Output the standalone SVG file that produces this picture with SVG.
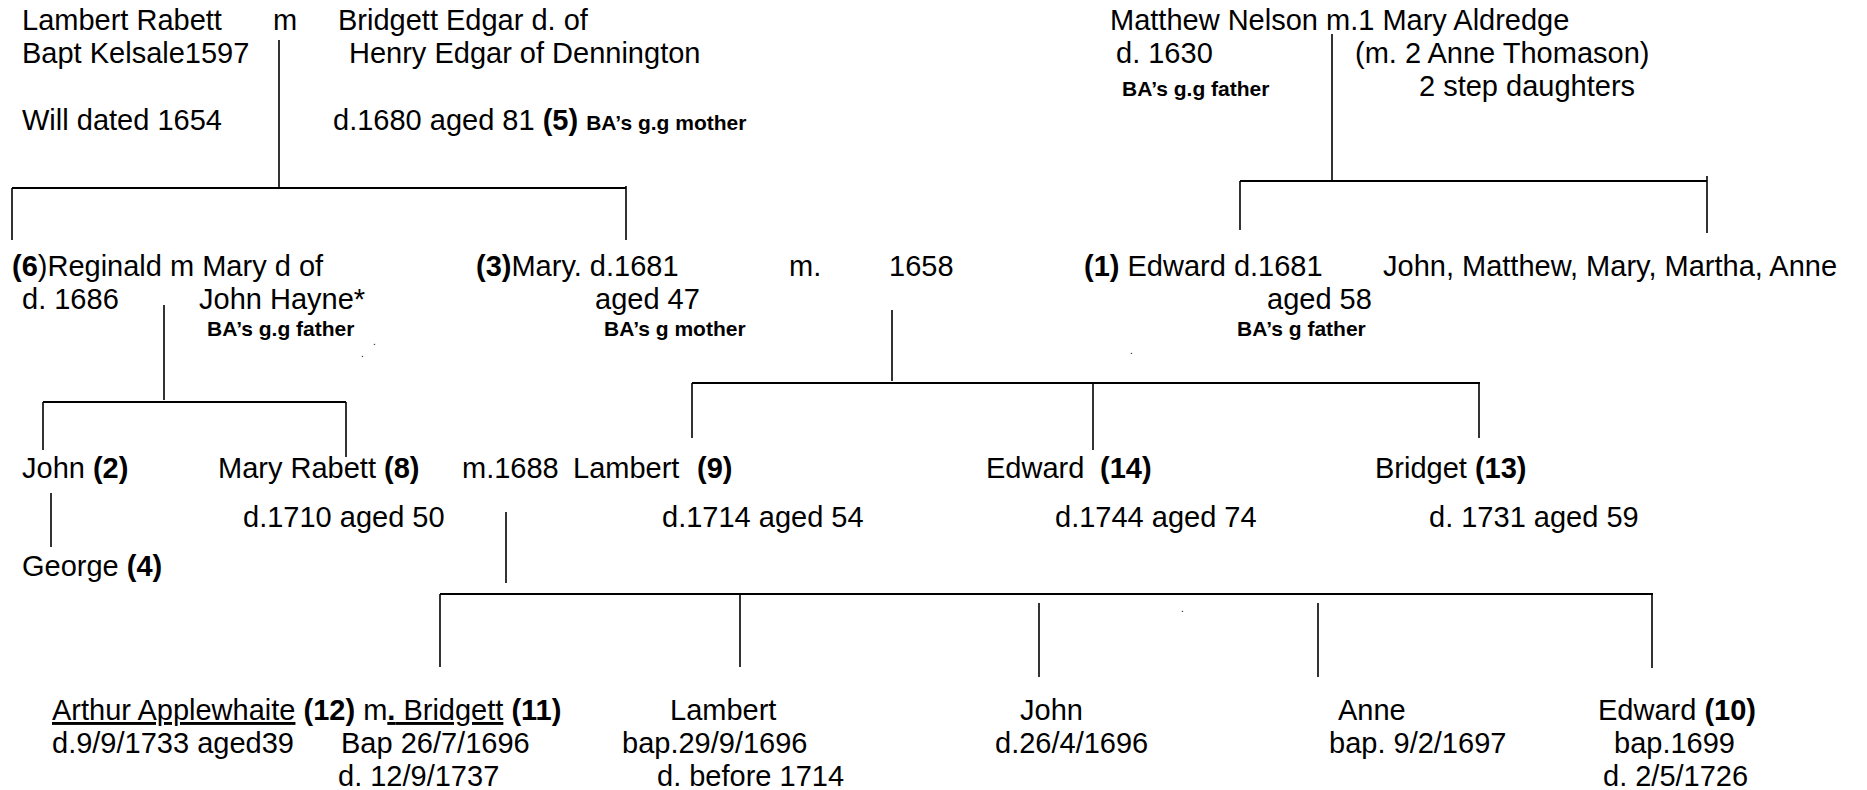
<svg xmlns="http://www.w3.org/2000/svg" width="1867" height="790" viewBox="0 0 1867 790">
<style>
text{font-family:"Liberation Sans",Arial,sans-serif;font-size:29px;fill:#000}
.b{font-weight:bold}
.s{font-size:21px;font-weight:bold}
.u{text-decoration:underline}
.dot{font-size:10px}
.h{stroke:#000;stroke-width:2.2;fill:none}
.v{stroke:#000;stroke-width:1.6;fill:none}
</style>
<rect width="1867" height="790" fill="#fff"/>
<g id="connectors">
<line class="v" x1="279" y1="40" x2="279" y2="188"/>
<line class="h" x1="12" y1="188" x2="626" y2="188"/>
<line class="v" x1="12" y1="188" x2="12" y2="240"/>
<line class="v" x1="626" y1="186" x2="626" y2="240"/>
<line class="v" x1="1332" y1="34" x2="1332" y2="181"/>
<line class="h" x1="1240" y1="181" x2="1707" y2="181"/>
<line class="v" x1="1240" y1="181" x2="1240" y2="230"/>
<line class="v" x1="1707" y1="176" x2="1707" y2="233"/>
<line class="v" x1="164" y1="305" x2="164" y2="400"/>
<line class="h" x1="43" y1="402" x2="346" y2="402"/>
<line class="v" x1="43" y1="402" x2="43" y2="450"/>
<line class="v" x1="346" y1="402" x2="346" y2="457"/>
<line class="v" x1="892" y1="310" x2="892" y2="381"/>
<line class="h" x1="692" y1="383" x2="1480" y2="383"/>
<line class="v" x1="692" y1="383" x2="692" y2="438"/>
<line class="v" x1="1093" y1="383" x2="1093" y2="450"/>
<line class="v" x1="1479" y1="383" x2="1479" y2="438"/>
<line class="v" x1="51" y1="493" x2="51" y2="547"/>
<line class="v" x1="506" y1="512" x2="506" y2="583"/>
<line class="h" x1="440" y1="594" x2="1653" y2="594"/>
<line class="v" x1="440" y1="594" x2="440" y2="667"/>
<line class="v" x1="740" y1="594" x2="740" y2="667"/>
<line class="v" x1="1039" y1="603" x2="1039" y2="677"/>
<line class="v" x1="1318" y1="603" x2="1318" y2="677"/>
<line class="v" x1="1652" y1="594" x2="1652" y2="668"/>
</g>
<g id="lambert-rabett">
<text x="22" y="30">Lambert Rabett</text>
<text x="22" y="63">Bapt Kelsale1597</text>
<text x="22" y="130">Will dated 1654</text>
</g>
<g id="marriage-m1"><text x="273" y="30">m</text></g>
<g id="bridgett-edgar">
<text x="338" y="30">Bridgett Edgar d. of</text>
<text x="349" y="63">Henry Edgar of Dennington</text>
<text x="333" y="130">d.1680 aged 81 <tspan class="b">(5)</tspan> <tspan class="s">BA’s g.g mother</tspan></text>
</g>
<g id="matthew-nelson">
<text x="1110" y="30">Matthew Nelson m.1 Mary Aldredge</text>
<text x="1116" y="63">d. 1630</text>
<text class="s" x="1122" y="96">BA’s g.g father</text>
<text x="1355" y="63">(m. 2 Anne Thomason)</text>
<text x="1419" y="96">2 step daughters</text>
</g>
<g id="reginald">
<text x="12" y="276"><tspan class="b">(6</tspan>)Reginald m Mary d of</text>
<text x="22" y="309">d. 1686</text>
<text x="199" y="309">John Hayne*</text>
<text class="s" x="207" y="336">BA’s g.g father</text>
<text class="dot" x="373" y="345">.</text>
<text class="dot" x="361" y="357">.</text>
</g>
<g id="mary">
<text x="476" y="276"><tspan class="b">(3)</tspan>Mary. d.1681</text>
<text x="595" y="309">aged 47</text>
<text class="s" x="604" y="336">BA’s g mother</text>
</g>
<g id="marriage-1658">
<text x="789" y="276">m.</text>
<text x="889" y="276">1658</text>
</g>
<g id="edward-1">
<text x="1084" y="276"><tspan class="b">(1)</tspan> Edward d.1681</text>
<text x="1267" y="309">aged 58</text>
<text class="s" x="1237" y="336">BA’s g father</text>
<text class="dot" x="1130" y="354">.</text>
</g>
<g id="nelson-siblings"><text x="1383" y="276">John, Matthew, Mary, Martha, Anne</text></g>
<g id="john-2"><text x="22" y="478">John <tspan class="b">(2)</tspan></text></g>
<g id="george-4"><text x="22" y="576">George <tspan class="b">(4)</tspan></text></g>
<g id="mary-rabett-8">
<text x="218" y="478">Mary Rabett <tspan class="b">(8)</tspan></text>
<text x="243" y="527">d.1710 aged 50</text>
</g>
<g id="marriage-1688"><text x="462" y="478">m.1688</text></g>
<g id="lambert-9">
<text x="573" y="478">Lambert</text>
<text class="b" x="697" y="478">(9)</text>
<text x="662" y="527">d.1714 aged 54</text>
</g>
<g id="edward-14">
<text x="986" y="478">Edward</text>
<text class="b" x="1100" y="478">(14)</text>
<text x="1055" y="527">d.1744 aged 74</text>
</g>
<g id="bridget-13">
<text x="1375" y="478">Bridget <tspan class="b">(13)</tspan></text>
<text x="1429" y="527">d. 1731 aged 59</text>
</g>
<g id="arthur-bridgett">
<text x="52" y="720"><tspan class="u">Arthur Applewhaite</tspan> <tspan class="b">(12)</tspan> m<tspan class="b u">.</tspan><tspan class="u"> Bridgett</tspan> <tspan class="b">(11)</tspan></text>
<text x="52" y="753">d.9/9/1733 aged39</text>
<text x="341" y="753">Bap 26/7/1696</text>
<text x="338" y="786">d. 12/9/1737</text>
</g>
<g id="lambert-child">
<text x="670" y="720">Lambert</text>
<text x="622" y="753">bap.29/9/1696</text>
<text x="657" y="786">d. before 1714</text>
</g>
<g id="john-child">
<text x="1020" y="720">John</text>
<text x="995" y="753">d.26/4/1696</text>
<text class="dot" x="1181" y="612">.</text>
</g>
<g id="anne-child">
<text x="1338" y="720">Anne</text>
<text x="1329" y="753">bap. 9/2/1697</text>
</g>
<g id="edward-10">
<text x="1598" y="720">Edward <tspan class="b">(10)</tspan></text>
<text x="1614" y="753">bap.1699</text>
<text x="1603" y="786">d. 2/5/1726</text>
</g>
</svg>
